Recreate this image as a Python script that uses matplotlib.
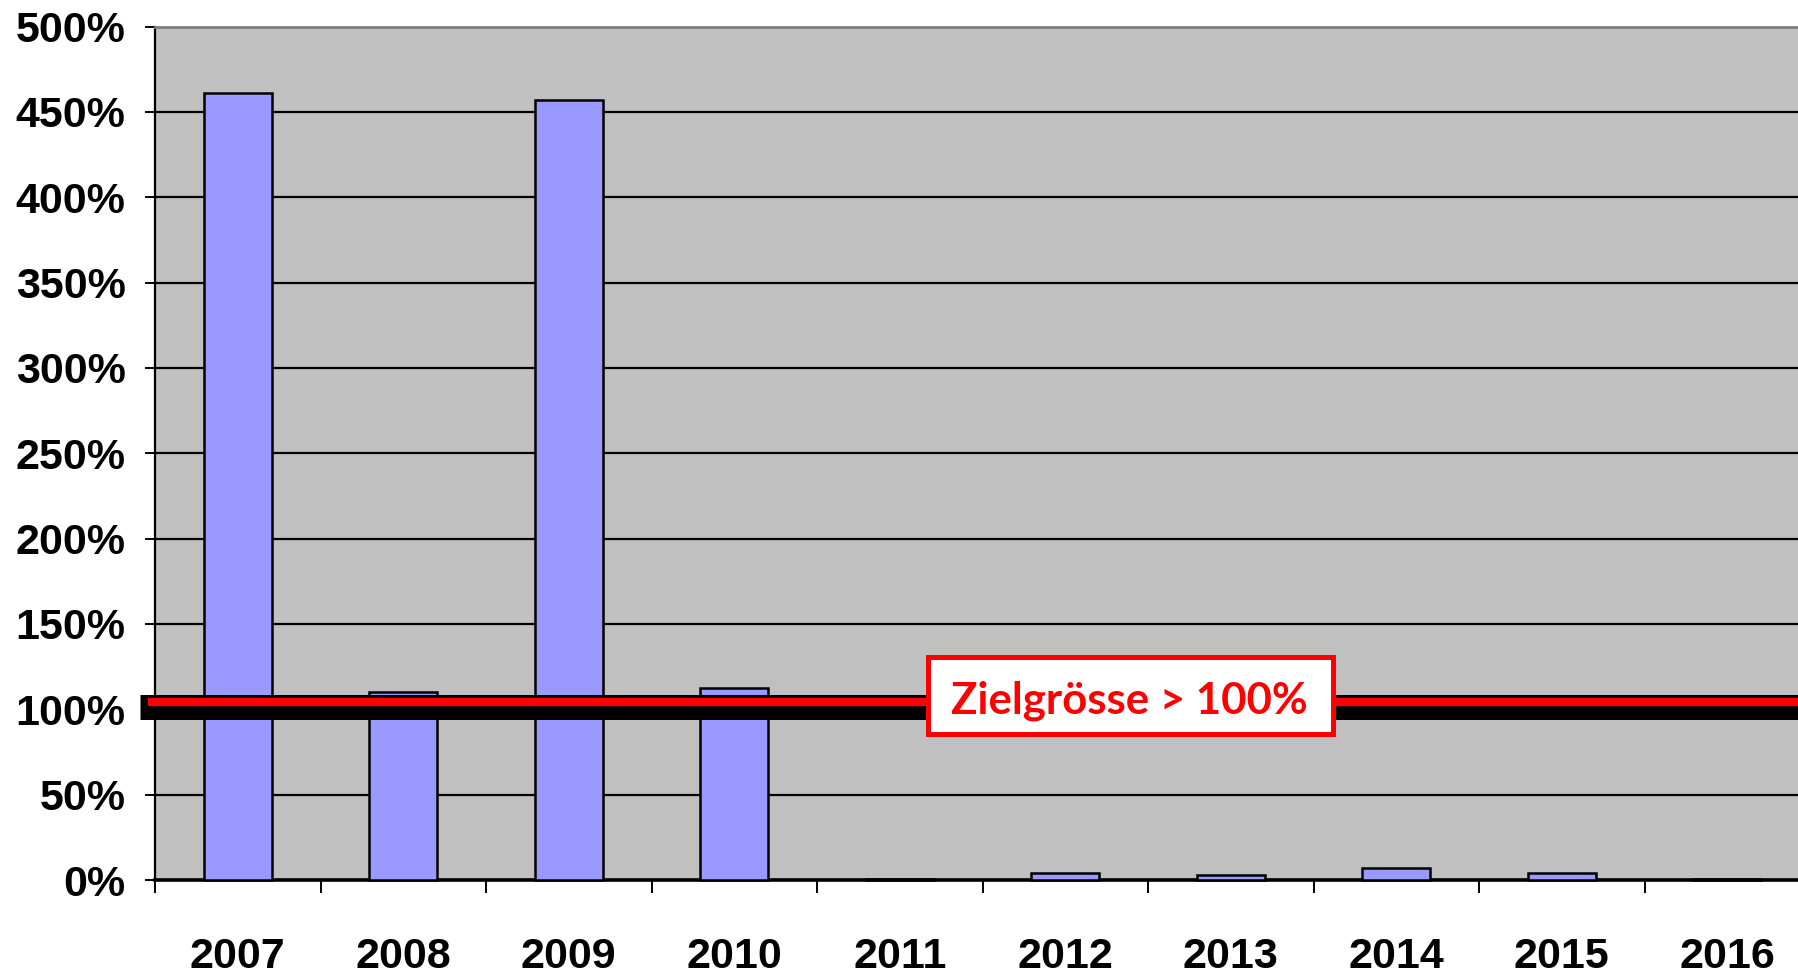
import matplotlib
matplotlib.use("Agg")
import matplotlib.pyplot as plt
import matplotlib.transforms as mtransforms
from matplotlib.patches import Rectangle

# Werte (Prozent)
jahre = ["2007", "2008", "2009", "2010", "2011", "2012", "2013", "2014", "2015", "2016"]
werte = [461, 110, 457, 112.5, 0.5, 4, 3, 7, 4, 0.5]
zielwert = 100
ziel_text = "Zielgrösse > 100%"
y_ticks = list(range(0, 501, 50))

tick_font = ["Liberation Sans", "DejaVu Sans"]

fig = plt.figure(figsize=(17.98, 9.77), dpi=100)
ax = fig.add_axes([155 / 1798, 97 / 977, 1655 / 1798, 853.5 / 977])
ax.set_facecolor("#C0C0C0")

x = list(range(len(jahre)))
bars = ax.bar(x, werte, width=0.41, color="#9999FF", edgecolor="black", linewidth=1.8, zorder=3)
for b in bars:
    b.set_clip_on(False)

ax.set_xlim(-0.5, len(jahre) - 0.5)
ax.set_ylim(0, 500)

# Gitterlinien
ax.set_yticks(y_ticks)
ax.set_yticklabels([f"{v}%" for v in y_ticks])
ax.yaxis.grid(True, color="black", linewidth=1.6, zorder=1)
ax.set_axisbelow(True)

# x-Achse: Striche an den Kategoriegrenzen, Beschriftung in der Mitte
ax.set_xticks([i - 0.5 for i in range(len(jahre) + 1)])
ax.set_xticklabels([])
ax.set_xticks(x, minor=True)
ax.set_xticklabels(jahre, minor=True)
ax.tick_params(axis="x", which="major", length=9.4, width=1.4, direction="out", color="black")
ax.tick_params(axis="x", which="minor", length=0, pad=41)
ax.tick_params(axis="y", length=7.2, width=1.4, direction="out", pad=14)

for lbl in ax.get_xticklabels(minor=True) + ax.get_yticklabels():
    lbl.set_family(tick_font)
    lbl.set_fontweight("bold")
    lbl.set_fontsize(31)

ax.spines["right"].set_visible(False)
ax.spines["top"].set_color("#808080")
ax.spines["top"].set_linewidth(2)
ax.spines["left"].set_linewidth(1.6)
ax.spines["bottom"].set_linewidth(2.6)
ax.spines["bottom"].set_zorder(2)

# Ziellinie 100 %: schwarzes Band mit rotem Strich darauf
trans = mtransforms.blended_transform_factory(ax.transAxes, ax.transData)
shift_black = mtransforms.ScaledTranslation(0, 2.8 / 100, fig.dpi_scale_trans)
shift_red = mtransforms.ScaledTranslation(0, 7.3 / 100, fig.dpi_scale_trans)
ax.plot([-0.0091, 1.0], [zielwert, zielwert], color="black", linewidth=18,
        solid_capstyle="butt", transform=trans + shift_black, clip_on=False, zorder=5)
ax.plot([-0.0042, 1.0], [zielwert, zielwert], color="red", linewidth=6,
        solid_capstyle="butt", transform=trans + shift_red, clip_on=False, zorder=6)

# Beschriftungskasten
box = Rectangle((0.4668, 85.5), 0.245, 45.4, transform=trans, facecolor="white",
                edgecolor="red", linewidth=3.6, zorder=7)
ax.add_patch(box)
ax.text(0.589, 97.8, ziel_text, transform=trans, ha="center", va="baseline",
        color="red", fontsize=31.5, fontweight="bold", family=["Lato", "DejaVu Sans"], zorder=8)

fig.savefig("out.png", dpi=100)
